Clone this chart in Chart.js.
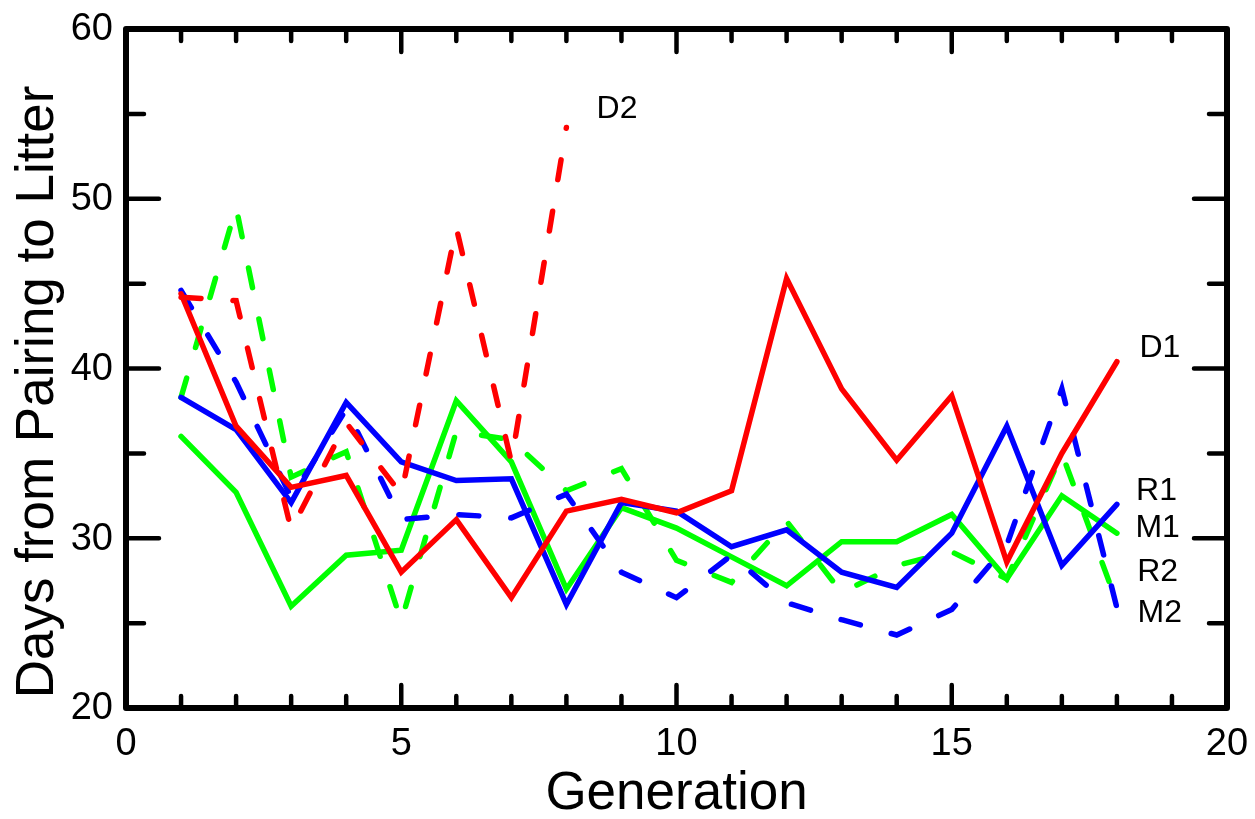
<!DOCTYPE html>
<html>
<head>
<meta charset="utf-8">
<script src="https://cdn.jsdelivr.net/npm/chart.js@4"></script>
<style>
  html, body { margin: 0; padding: 0; background: #fff; }
  #wrap { width: 1255px; height: 819px; position: relative; }
</style>
</head>
<body>
<div id="wrap"><canvas id="chart"></canvas></div>
<script>
// generations on the x axis
const generations = [1, 2, 3, 4, 5, 6, 7, 8, 9, 10, 11, 12, 13, 14, 15, 16, 17, 18];

// days from pairing to litter, per line
const d1 = [44.4, 36.6, 33.0, 33.7, 28.0, 31.1, 26.5, 31.6, 32.3, 31.5, 32.8, 45.3, 38.8, 34.6, 38.4, 28.6, 35.0, 40.4];
const d2 = [44.2, 44.0, 30.5, 36.8, 32.6, 48.3, 34.5, 54.2];
const r1 = [38.3, 36.4, 32.1, 38.0, 34.5, 33.4, 33.5, 26.1, 32.1, 31.6, 29.5, 30.5, 28.0, 27.1, 30.3, 36.6, 28.4, 32.0];
const r2 = [44.6, 39.2, 32.4, 37.6, 31.1, 31.4, 31.2, 32.6, 28.0, 26.5, 29.0, 26.2, 25.2, 24.3, 25.8, 29.6, 38.8, 25.9];
const m1 = [36.0, 32.7, 26.0, 29.0, 29.3, 38.1, 34.5, 27.0, 31.8, 30.6, 28.9, 27.2, 29.8, 29.8, 31.4, 27.6, 32.5, 30.3];
const m2 = [38.3, 49.5, 33.6, 35.1, 25.1, 36.3, 35.8, 32.8, 34.1, 28.7, 27.4, 31.0, 26.8, 28.4, 29.2, 27.6, 35.0, 26.2];

// tick labels
const xTicks = [0, 5, 10, 15, 20];
const yTicks = [20, 30, 40, 50, 60];

// line name tags, placed in data units
const tagNames = ['D2', 'D1', 'R1', 'M1', 'R2', 'M2'];
const tagX = [8.92, 18.78, 18.72, 18.74, 18.74, 18.78];
const tagY = [55.3, 41.2, 32.8, 30.6, 28.0, 25.6];

function points(ys) {
    return ys.map((y, i) => ({ x: generations[i], y: y }));
}

const DASH = [20, 32];
const FONT = '"Liberation Sans", Arial, sans-serif';

function line(label, ys, color, dashed) {
    return {
        label: label,
        data: points(ys),
        borderColor: color,
        backgroundColor: color,
        borderWidth: 5.5,
        borderDash: dashed ? DASH : [],
        borderCapStyle: 'round',
        borderJoinStyle: 'miter',
        pointRadius: 0,
        tension: 0,
        fill: false
    };
}

// frame, inward ticks, tick labels, axis titles and line tags
const framePlugin = {
    id: 'frame',
    afterDraw(chart) {
        const ctx = chart.ctx;
        const a = chart.chartArea;
        const xs = chart.scales.x;
        const ys = chart.scales.y;
        ctx.save();
        ctx.strokeStyle = '#000';
        ctx.lineCap = 'round';

        // ticks
        ctx.lineWidth = 4.5;
        for (let v = 1; v < 20; v++) {
            const px = xs.getPixelForValue(v);
            const len = v % 5 === 0 ? 23 : 12;
            ctx.beginPath();
            ctx.moveTo(px, a.bottom); ctx.lineTo(px, a.bottom - len);
            ctx.moveTo(px, a.top); ctx.lineTo(px, a.top + len);
            ctx.stroke();
        }
        for (let v = 25; v < 60; v += 5) {
            const py = ys.getPixelForValue(v);
            const len = v % 10 === 0 ? 33 : 18;
            ctx.beginPath();
            ctx.moveTo(a.left, py); ctx.lineTo(a.left + len, py);
            ctx.moveTo(a.right, py); ctx.lineTo(a.right - len, py);
            ctx.stroke();
        }

        // frame
        ctx.lineWidth = 6;
        ctx.lineJoin = 'round';
        ctx.strokeRect(a.left, a.top, a.right - a.left, a.bottom - a.top);

        // tick labels
        ctx.fillStyle = '#000';
        ctx.font = '38px ' + FONT;
        ctx.textAlign = 'right';
        ctx.textBaseline = 'middle';
        yTicks.forEach(v => ctx.fillText(String(v), a.left - 13, ys.getPixelForValue(v) + 1));
        ctx.textAlign = 'center';
        ctx.textBaseline = 'top';
        xTicks.forEach(v => ctx.fillText(String(v), xs.getPixelForValue(v), a.bottom + 18));

        // axis titles
        ctx.font = '53px ' + FONT;
        ctx.textAlign = 'center';
        ctx.textBaseline = 'middle';
        ctx.fillText('Generation', (a.left + a.right) / 2, 794);
        ctx.save();
        ctx.translate(38, 392);
        ctx.rotate(-Math.PI / 2);
        ctx.fillText('Days from Pairing to Litter', 0, 0);
        ctx.restore();

        // line tags
        ctx.font = '32px ' + FONT;
        tagNames.forEach((t, i) => {
            ctx.fillText(t, xs.getPixelForValue(tagX[i]), ys.getPixelForValue(tagY[i]));
        });
        ctx.restore();
    }
};

new Chart(document.getElementById('chart'), {
    type: 'line',
    data: {
        datasets: [
            line('D1', d1, '#ff0000', false),
            line('D2', d2, '#ff0000', true),
            line('R1', r1, '#0000ff', false),
            line('R2', r2, '#0000ff', true),
            line('M1', m1, '#00ff00', false),
            line('M2', m2, '#00ff00', true)
        ]
    },
    options: {
        responsive: true,
        maintainAspectRatio: false,
        animation: false,
        layout: { padding: { left: 126, top: 29, right: 28, bottom: 111 } },
        plugins: {
            legend: { display: false },
            tooltip: { enabled: false }
        },
        scales: {
            x: { type: 'linear', min: 0, max: 20, display: false },
            y: { type: 'linear', min: 20, max: 60, display: false }
        }
    },
    plugins: [framePlugin]
});
</script>
</body>
</html>
